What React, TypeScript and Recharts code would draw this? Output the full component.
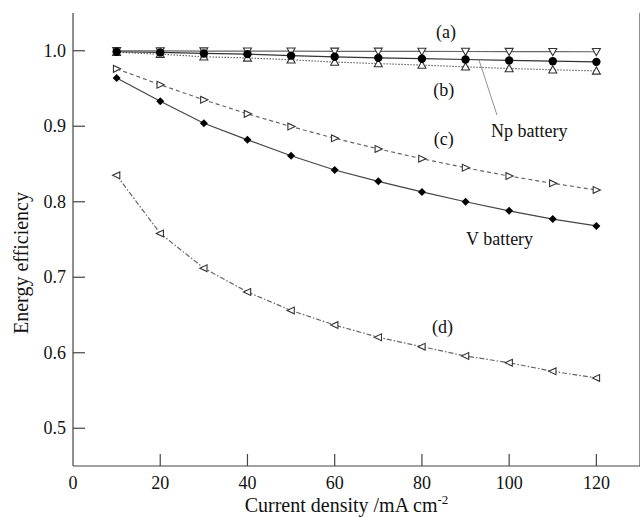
import React from 'react';
import { LineChart, Line, XAxis, YAxis, ReferenceDot, ReferenceLine } from 'recharts';

const currentDensity = [10, 20, 30, 40, 50, 60, 70, 80, 90, 100, 110, 120];
// (a) open down triangles, solid
const effA = [1.0, 0.9998, 0.9996, 0.9995, 0.9994, 0.9993, 0.9992, 0.9991, 0.999, 0.9989, 0.9988, 0.9987];
// Np battery, filled circles
const effNp = [0.9987, 0.9978, 0.9964, 0.9955, 0.9935, 0.992, 0.9906, 0.9895, 0.9884, 0.9872, 0.9862, 0.9853];
// (b) open up triangles, dotted
const effB = [0.998, 0.9955, 0.992, 0.9905, 0.988, 0.985, 0.983, 0.981, 0.9787, 0.9765, 0.9748, 0.9733];
// (c) open right triangles, dashed
const effC = [0.976, 0.955, 0.935, 0.9164, 0.8996, 0.884, 0.87, 0.857, 0.845, 0.834, 0.8244, 0.8156];
// V battery, filled diamonds
const effV = [0.964, 0.933, 0.904, 0.882, 0.861, 0.842, 0.827, 0.813, 0.8, 0.788, 0.777, 0.768];
// (d) open left triangles, dash-dot
const effD = [0.835, 0.758, 0.712, 0.6805, 0.656, 0.6367, 0.6205, 0.608, 0.5957, 0.5868, 0.5754, 0.5666];

const xTicks = [0, 20, 40, 60, 80, 100, 120];
const yTicks = [0.5, 0.6, 0.7, 0.8, 0.9, 1.0];

const data = currentDensity.map((x, i) => ({
  x,
  a: effA[i],
  np: effNp[i],
  b: effB[i],
  c: effC[i],
  v: effV[i],
  d: effD[i],
}));

const FONT = '"Liberation Serif", "Times New Roman", serif';
const AXIS = '#444';
const LINE = '#666';
const TICK_LEN = 12;

const BottomTick = (props: any) => {
  const { x, y, payload } = props;
  return (
    <g>
      {payload.value !== 0 && <line x1={x} y1={y} x2={x} y2={y - TICK_LEN} stroke={AXIS} strokeWidth={1.2} />}
      <text x={x} y={y + 23} textAnchor="middle" fontSize={18} fontFamily={FONT} fill="#111">
        {payload.value}
      </text>
    </g>
  );
};

const TopTick = (props: any) => {
  const { x, y } = props;
  return <line x1={x} y1={y} x2={x} y2={y + TICK_LEN} stroke={AXIS} strokeWidth={1.2} />;
};

const LeftTick = (props: any) => {
  const { x, y, payload } = props;
  return (
    <g>
      <line x1={x} y1={y} x2={x + TICK_LEN} y2={y} stroke={AXIS} strokeWidth={1.2} />
      <text x={x - 7} y={y + 6} textAnchor="end" fontSize={18} fontFamily={FONT} fill="#111">
        {payload.value.toFixed(1)}
      </text>
    </g>
  );
};

const RightTick = (props: any) => {
  const { x, y } = props;
  return <line x1={x} y1={y} x2={x - TICK_LEN} y2={y} stroke={AXIS} strokeWidth={1.2} />;
};

const tri = (cx: number, cy: number, dir: 'up' | 'down' | 'left' | 'right') => {
  const a = 4; // along the pointing direction
  const b = 4; // half width across
  switch (dir) {
    case 'up':
      return `${cx},${cy - a} ${cx - b},${cy + a * 0.8} ${cx + b},${cy + a * 0.8}`;
    case 'down':
      return `${cx},${cy + a} ${cx - b},${cy - a * 0.8} ${cx + b},${cy - a * 0.8}`;
    case 'left':
      return `${cx - a},${cy} ${cx + a * 0.8},${cy - b * 0.85} ${cx + a * 0.8},${cy + b * 0.85}`;
    default:
      return `${cx + a},${cy} ${cx - a * 0.8},${cy - b * 0.85} ${cx - a * 0.8},${cy + b * 0.85}`;
  }
};

const triDot = (dir: 'up' | 'down' | 'left' | 'right', id: string) => (props: any) => (
  <polygon
    key={`${id}-${props.index}`}
    points={tri(props.cx, props.cy, dir)}
    fill="#fff"
    stroke="#333"
    strokeWidth={1.1}
  />
);

const circleDot = (props: any) => (
  <circle key={`np-${props.index}`} cx={props.cx} cy={props.cy} r={4.2} fill="#000" />
);

const diamondDot = (props: any) => {
  const { cx, cy } = props;
  const s = 4;
  return (
    <polygon
      key={`v-${props.index}`}
      points={`${cx},${cy - s} ${cx + s},${cy} ${cx},${cy + s} ${cx - s},${cy}`}
      fill="#000"
    />
  );
};

const annot = (value: string) => ({
  content: (p: any) => {
    const vb = p.viewBox || {};
    const cx = (vb.x ?? 0) + (vb.width ?? 0) / 2;
    const cy = (vb.y ?? 0) + (vb.height ?? 0) / 2;
    return (
      <text x={cx} y={cy} textAnchor="middle" dominantBaseline="central" fontSize={18} fontFamily={FONT} fill="#111">
        {value}
      </text>
    );
  },
});

export default function App() {
  return (
    <div style={{ position: 'absolute', left: 0, top: 0, width: 640, height: 517, overflow: 'hidden', background: '#fff' }}>
      <LineChart width={660} height={517} data={data} margin={{ top: 13, right: 0, bottom: 0, left: 13 }}>
        <XAxis
          dataKey="x"
          type="number"
          domain={[0, 130]}
          ticks={xTicks}
          tickSize={0}
          tickMargin={0}
          tick={<BottomTick />}
          stroke={AXIS}
          strokeWidth={1.2}
          height={51}
          label={{
            content: (p: any) => {
              const vb = p.viewBox;
              return (
                <text x={vb.x + vb.width / 2 - 10} y={vb.y + 46} textAnchor="middle" fontSize={20} fontFamily={FONT} fill="#111">
                  <tspan>Current density /mA cm</tspan>
                  <tspan dy={-8} fontSize={13}>-2</tspan>
                </text>
              );
            },
          }}
        />
        <XAxis
          xAxisId="top"
          dataKey="x"
          type="number"
          orientation="top"
          domain={[0, 130]}
          ticks={xTicks}
          tickSize={0}
          tickMargin={0}
          tick={<TopTick />}
          stroke={AXIS}
          strokeWidth={1.2}
          height={0}
        />
        <YAxis
          type="number"
          domain={[0.45, 1.05]}
          ticks={yTicks}
          tickSize={0}
          tickMargin={0}
          tick={<LeftTick />}
          stroke={AXIS}
          strokeWidth={1.2}
          width={60}
          label={{
            content: () => (
              <text
                x={21}
                y={263}
                transform="rotate(-90 21 263)"
                textAnchor="middle"
                dominantBaseline="central"
                fontSize={20}
                fontFamily={FONT}
                fill="#111"
              >
                Energy efficiency
              </text>
            ),
          }}
        />
        <YAxis
          yAxisId="right"
          orientation="right"
          type="number"
          domain={[0.45, 1.05]}
          ticks={yTicks}
          tickSize={0}
          tickMargin={0}
          tick={<RightTick />}
          stroke={AXIS}
          strokeWidth={1.2}
          width={20}
        />

        <Line dataKey="a" stroke={LINE} strokeWidth={1.2} dot={triDot('down', 'a')} activeDot={false} isAnimationActive={false} />
        <Line dataKey="b" stroke={LINE} strokeWidth={1.2} strokeDasharray="1.5 1.5" dot={triDot('up', 'b')} activeDot={false} isAnimationActive={false} />
        <Line dataKey="np" stroke="#333" strokeWidth={1.2} dot={circleDot} activeDot={false} isAnimationActive={false} />
        <Line dataKey="c" stroke={LINE} strokeWidth={1.2} strokeDasharray="4 3" dot={triDot('right', 'c')} activeDot={false} isAnimationActive={false} />
        <Line dataKey="v" stroke="#444" strokeWidth={1.2} dot={diamondDot} activeDot={false} isAnimationActive={false} />
        <Line dataKey="d" stroke={LINE} strokeWidth={1.2} strokeDasharray="5 2 1.5 2" dot={triDot('left', 'd')} activeDot={false} isAnimationActive={false} />

        <ReferenceLine
          segment={[{ x: 93.1, y: 0.9876 }, { x: 97.2, y: 0.915 }]}
          stroke="#777"
          strokeWidth={0.8}
        />
        <ReferenceDot x={85.5} y={1.025} r={0} stroke="none" label={annot('(a)')} />
        <ReferenceDot x={85} y={0.948} r={0} stroke="none" label={annot('(b)')} />
        <ReferenceDot x={85} y={0.883} r={0} stroke="none" label={annot('(c)')} />
        <ReferenceDot x={104.6} y={0.894} r={0} stroke="none" label={annot('Np battery')} />
        <ReferenceDot x={97.8} y={0.751} r={0} stroke="none" label={annot('V battery')} />
        <ReferenceDot x={84.7} y={0.634} r={0} stroke="none" label={annot('(d)')} />
      </LineChart>
    </div>
  );
}
